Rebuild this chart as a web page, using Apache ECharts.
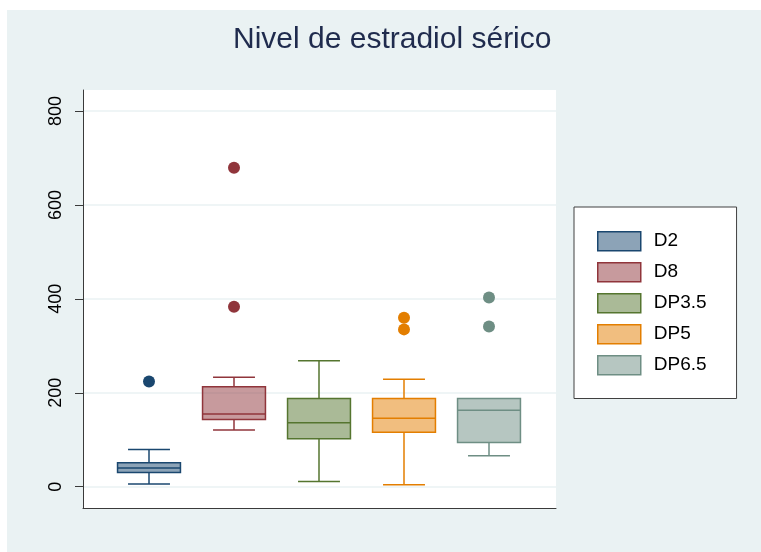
<!DOCTYPE html>
<html>
<head>
<meta charset="utf-8">
<script src="https://cdn.jsdelivr.net/npm/echarts@6/dist/echarts.min.js"></script>
<style>
html,body{margin:0;padding:0;background:#fff;}
#bg{position:absolute;left:7px;top:10px;width:754px;height:542px;background:#eaf2f3;}
#chart{position:absolute;left:0;top:0;width:761px;height:552px;}
</style>
</head>
<body>
<div id="bg"></div>
<div id="chart"></div>
<script>
// ---- data ----
const categories = ['D2', 'D8', 'DP3.5', 'DP5', 'DP6.5'];
const boxMin    = [6, 121, 11, 4, 66];
const boxQ1     = [30, 143, 102, 116, 94];
const boxMedian = [40, 155, 136, 146, 163];
const boxQ3     = [51, 213, 188, 188, 188];
const boxMax    = [79, 233, 268, 229, 188];
const outlierGroup = [0, 1, 1, 3, 3, 4, 4];
const outlierValue = [224, 679, 383, 360, 335, 403, 341];
const yTicks = [0, 200, 400, 600, 800];
const titleText = 'Nivel de estradiol sérico';

// ---- styles ----
const lineColors = ['#1a476f', '#90353b', '#55752f', '#e37e00', '#6e8e84'];
const fillColors = ['rgba(26,71,111,0.5)', 'rgba(144,53,59,0.5)', 'rgba(85,117,47,0.5)', 'rgba(227,126,0,0.5)', 'rgba(110,142,132,0.5)'];
const FONT = '"Liberation Sans", Arial, Helvetica, sans-serif';

const chart = echarts.init(document.getElementById('chart'), null, {renderer: 'canvas'});

const plotLeft = 83, plotWidth = 473;
const yTop = 111, yHeight = 375.7;
const bandLeft = 106.5, bandWidth = 425;

function makeRenderer(i) {
  return function (params, api) {
    const x = api.value(0);
    const band = api.size([1, 0])[0];
    const boxW = band * 0.74;
    const capW = boxW * 2 / 3;
    const pMin = api.coord([x, api.value(1)]);
    const pQ1 = api.coord([x, api.value(2)]);
    const pMed = api.coord([x, api.value(3)]);
    const pQ3 = api.coord([x, api.value(4)]);
    const pMax = api.coord([x, api.value(5)]);
    const cx = pMed[0];
    const ls = {stroke: lineColors[i], lineWidth: 1.5, fill: null};
    const children = [];
    if (pMax[1] < pQ3[1] - 0.5) {
      children.push({type: 'line', shape: {x1: cx, y1: pQ3[1], x2: cx, y2: pMax[1]}, style: ls});
      children.push({type: 'line', shape: {x1: cx - capW / 2, y1: pMax[1], x2: cx + capW / 2, y2: pMax[1]}, style: ls});
    }
    if (pMin[1] > pQ1[1] + 0.5) {
      children.push({type: 'line', shape: {x1: cx, y1: pQ1[1], x2: cx, y2: pMin[1]}, style: ls});
      children.push({type: 'line', shape: {x1: cx - capW / 2, y1: pMin[1], x2: cx + capW / 2, y2: pMin[1]}, style: ls});
    }
    children.push({type: 'rect', shape: {x: cx - boxW / 2, y: pQ3[1], width: boxW, height: pQ1[1] - pQ3[1]},
      style: {fill: fillColors[i], stroke: lineColors[i], lineWidth: 1.5}});
    children.push({type: 'line', shape: {x1: cx - boxW / 2, y1: pMed[1], x2: cx + boxW / 2, y2: pMed[1]}, style: ls});
    return {type: 'group', children: children};
  };
}

const series = [];
categories.forEach((name, i) => {
  series.push({
    type: 'custom',
    name: name,
    xAxisIndex: 2,
    yAxisIndex: 2,
    itemStyle: {color: fillColors[i], borderColor: lineColors[i], borderWidth: 1.5},
    encode: {x: 0, y: [1, 2, 3, 4, 5]},
    renderItem: makeRenderer(i),
    data: [[i, boxMin[i], boxQ1[i], boxMedian[i], boxQ3[i], boxMax[i]]]
  });
});
series.push({
  type: 'scatter',
  name: 'outliers',
  xAxisIndex: 2,
  yAxisIndex: 2,
  symbolSize: 12,
  data: outlierValue.map((v, k) => ({
    value: [outlierGroup[k], v],
    itemStyle: {color: lineColors[outlierGroup[k]], opacity: 1}
  }))
});

chart.setOption({
  animation: false,
  backgroundColor: 'transparent',
  title: {
    text: titleText,
    left: 233, top: 25, padding: 0,
    textStyle: {fontFamily: FONT, fontSize: 30, fontWeight: 'normal', color: '#1f2b4d'}
  },
  legend: {
    data: categories.map((name, i) => ({
      name: name,
      itemStyle: {color: fillColors[i], borderColor: lineColors[i], borderWidth: 1.5}
    })),
    orient: 'vertical',
    left: 574, top: 207,
    padding: [24, 30, 23, 23],
    backgroundColor: '#fff',
    borderColor: '#404040',
    borderWidth: 1,
    itemWidth: 43, itemHeight: 19, itemGap: 10.5,
    icon: 'rect',
    textStyle: {fontFamily: FONT, fontSize: 19, color: '#000', lineHeight: 19, padding: [0, 0, 0, 8]}
  },
  grid: [
    {left: plotLeft, width: plotWidth, top: 90, height: 418, show: true, backgroundColor: '#fff', borderWidth: 0, z: -5},
    {left: plotLeft, width: plotWidth, top: yTop, height: yHeight},
    {left: bandLeft, width: bandWidth, top: yTop, height: yHeight}
  ],
  xAxis: [
    {gridIndex: 0, type: 'value', min: 0, max: 1, z: 5,
     axisLine: {show: true, onZero: false, lineStyle: {color: '#3a3a3a', width: 1}},
     axisTick: {show: false}, axisLabel: {show: false}, splitLine: {show: false}},
    {gridIndex: 1, type: 'value', min: 0, max: 1, show: false},
    {gridIndex: 2, type: 'category', data: categories, show: false}
  ],
  yAxis: [
    {gridIndex: 0, type: 'value', min: 0, max: 1, z: 5,
     axisLine: {show: true, onZero: false, lineStyle: {color: '#3a3a3a', width: 1}},
     axisTick: {show: false}, axisLabel: {show: false}, splitLine: {show: false}},
    {gridIndex: 1, type: 'value', min: yTicks[0], max: yTicks[yTicks.length - 1], interval: 200,
     axisLine: {show: false},
     axisTick: {show: true, length: 8, lineStyle: {color: '#3a3a3a', width: 1}},
     axisLabel: {rotate: 90, margin: 18, fontFamily: FONT, fontSize: 18, color: '#000'},
     splitLine: {show: true, lineStyle: {color: '#eaf2f3', width: 1.5}}},
    {gridIndex: 2, type: 'value', min: yTicks[0], max: yTicks[yTicks.length - 1], show: false}
  ],
  series: series
});
</script>
</body>
</html>
